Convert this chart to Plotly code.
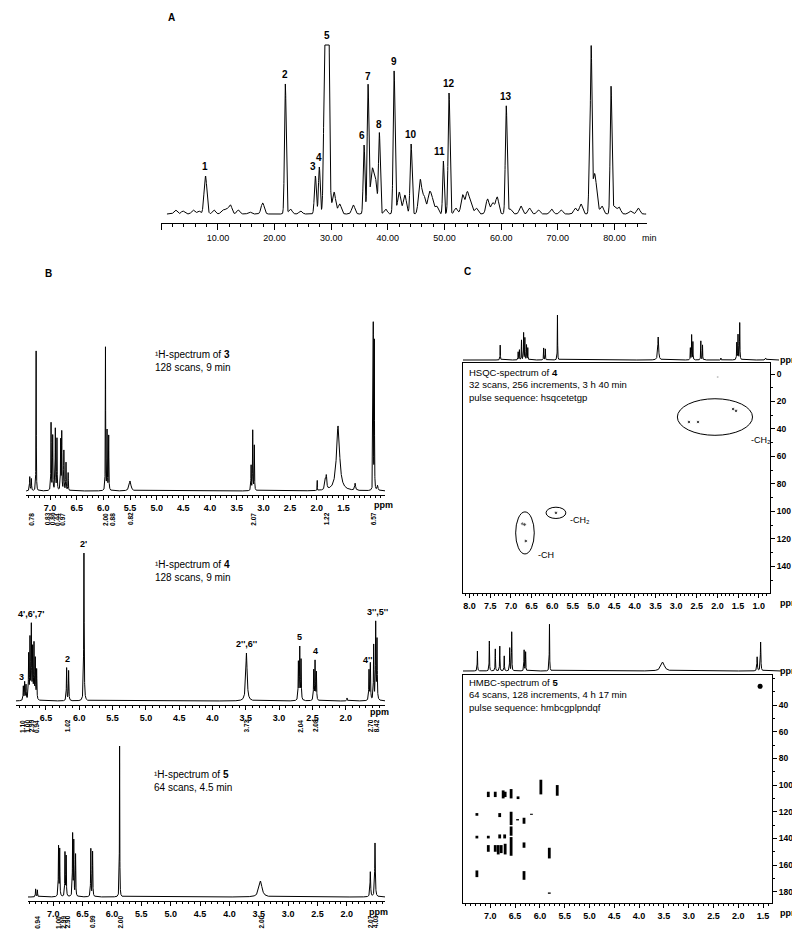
import numpy as np
import plotly.graph_objects as go

W, H = 800, 932
FONT = "Liberation Sans, Arial, sans-serif"


def fx(p):
    return p / W


def fy(p):
    return 1 - p / H


# ---------------- Panel A : chromatogram ----------------
chrom_rt = [7.8, 21.9, 27.2, 27.9, 29.2, 35.8, 36.5, 38.5, 41.1, 44.1, 49.8, 50.8, 60.9, 75.6, 75.9, 79.4]
chrom_height = [38, 130, 38, 47, 600, 69, 128, 80, 143, 70, 53, 121, 108, 52, 158, 127]
chrom_sigma = [0.25, 0.15, 0.17, 0.15, 0.28, 0.15, 0.15, 0.15, 0.16, 0.17, 0.13, 0.16, 0.16, 0.13, 0.13, 0.15]
chrom_label = ["1", "2", "3", "4", "5", "6", "7", "8", "9", "10", "11", "12", "13", "", "", ""]
minor_rt = [2.5, 3.8, 5.6, 6.6, 9.3, 10.8, 11.5, 12.2, 13.6, 15.6, 17.9, 22.8, 24.6, 30.5, 31.5, 33.9,
            37.2, 37.8, 39.6, 42.0, 43.0, 45.7, 46.4, 47.3, 47.8, 48.6, 52.0, 53.2, 54.0, 54.6, 55.6,
            57.6, 58.5, 59.3, 61.6, 63.5, 65.0, 66.6, 68.9, 70.6, 73.1, 74.1, 76.4, 76.8, 77.8, 80.0,
            80.8, 82.8, 84.2]
minor_height = [4, 3, 4, 3, 4, 4, 5, 9, 4, 2, 11, 5, 3, 22, 10, 9,
                42, 33, 5, 22, 19, 34, 17, 19, 14, 8, 6, 19, 21, 12, 6,
                15, 11, 17, 5, 8, 6, 4, 5, 4, 6, 10, 33, 17, 8, 8,
                7, 3, 6]
detector_max = 169
chrom_ticks = [10, 20, 30, 40, 50, 60, 70, 80]
chrom_ticktext = ["10.00", "20.00", "30.00", "40.00", "50.00", "60.00", "70.00", "80.00"]

# ---------------- Panel B : 1H spectra ----------------
s3_ppm = [7.38, 7.35, 7.26, 6.98, 6.95, 6.90, 6.87, 6.80, 6.78, 6.74, 6.70, 6.66, 5.96, 5.93, 5.90,
          5.50, 3.23, 3.20, 3.17, 1.99, 1.84, 1.82, 1.60, 1.28, 0.94, 0.92, 0.86]
s3_h = [14, 12, 140, 68, 55, 62, 52, 50, 58, 40, 28, 18, 144, 60, 55,
        10, 25, 60, 45, 10, 9, 13, 65, 7, 166, 150, 5]
s3_w = [.005, .005, .003, .004, .004, .004, .004, .004, .004, .004, .004, .004, .003, .004, .004,
        .02, .004, .004, .004, .002, .01, .01, .035, .01, .003, .003, .01]
s3_int_ppm = [7.36, 7.05, 6.96, 6.87, 6.78, 5.97, 5.84, 5.50, 3.20, 1.82, 0.94]
s3_int_txt = ["0.78", "0.83", "0.86", "0.44", "0.97", "2.00", "0.88", "0.82", "2.07", "1.22", "6.57"]
s3_ticks = [7.0, 6.5, 6.0, 5.5, 5.0, 4.5, 4.0, 3.5, 3.0, 2.5, 2.0, 1.5]

s4_ppm = [6.84, 6.82, 6.80, 6.76, 6.74, 6.72, 6.70, 6.68, 6.66, 6.64, 6.19, 6.16, 5.93, 3.49,
          2.71, 2.69, 2.67, 2.48, 2.46, 2.44, 1.98, 1.65, 1.63, 1.58, 1.55, 1.53]
s4_h = [14, 18, 15, 45, 60, 73, 50, 55, 40, 30, 33, 30, 148, 48,
        38, 52, 40, 30, 39, 28, 3, 30, 37, 55, 77, 60]
s4_w = [.004] * 13 + [.012] + [.004] * 12
s4_lab_txt = ["3", "4',6',7'", "2", "2'", "2'',6''", "5", "4", "4''", "3'',5''"]
s4_lab_ppm = [6.86, 6.73, 6.18, 5.93, 3.49, 2.69, 2.46, 1.68, 1.53]
s4_int_ppm = [6.86, 6.79, 6.72, 6.65, 6.18, 3.49, 2.69, 2.46, 1.63, 1.54]
s4_int_txt = ["1.10", "1.00", "2.99", "0.94", "1.02", "3.73", "2.04", "2.08", "2.70", "8.42"]
s4_ticks = [6.5, 6.0, 5.5, 5.0, 4.5, 4.0, 3.5, 3.0, 2.5, 2.0]

s5_ppm = [7.30, 7.27, 6.91, 6.89, 6.80, 6.78, 6.67, 6.65, 6.62, 6.36, 6.33, 5.87, 3.47, 1.60, 1.52]
s5_h = [8, 7, 50, 47, 44, 40, 62, 55, 42, 48, 45, 151, 16, 25, 54]
s5_w = [.004, .004, .004, .004, .004, .004, .004, .004, .004, .004, .004, .003, .03, .006, .006]
s5_int_ppm = [7.28, 6.92, 6.84, 6.76, 6.34, 5.87, 3.47, 1.60, 1.52]
s5_int_txt = ["0.94", "1.00", "2.99", "2.90", "0.99", "2.00", "2.00", "2.07", "4.03"]
s5_ticks = [7.0, 6.5, 6.0, 5.5, 5.0, 4.5, 4.0, 3.5, 3.0, 2.5, 2.0]

# ---------------- Panel C : HSQC of 4 ----------------
hsqc1d_ppm = [7.27, 6.84, 6.81, 6.76, 6.71, 6.68, 6.64, 6.61, 6.23, 6.19, 5.90, 3.49, 2.72, 2.69, 2.66,
              2.47, 2.43, 1.99, 1.61, 1.58, 1.54, 0.92]
hsqc1d_h = [15, 8, 10, 20, 27, 22, 15, 12, 12, 11, 45, 23, 12, 25, 18, 19, 15, 2, 17, 25, 37, 2]
hsqc1d_w = [.004] * 11 + [.012] + [.004] * 5 + [.003, .005, .005, .005, .01]
hsqc_h = [1.99, 1.62, 1.55, 2.69, 2.47, 5.91, 6.72, 6.67, 6.64]
hsqc_c = [2.2, 25.5, 26.8, 34.9, 34.9, 101.0, 109.0, 109.5, 121.5]
hsqc_zone_h = [2.06, 5.91, 6.66]
hsqc_zone_c = [31.3, 101.0, 115.6]
hsqc_zone_dh = [0.91, 0.24, 0.225]
hsqc_zone_dc = [13.3, 4.1, 15.3]
hsqc_zone_txt = ["-CH₂", "-CH₂", "-CH"]
hsqc_zone_txt_h = [1.24, 5.62, 6.40]
hsqc_zone_txt_c = [48, 106, 132]
hsqc_xticks = [8.0, 7.5, 7.0, 6.5, 6.0, 5.5, 5.0, 4.5, 4.0, 3.5, 3.0, 2.5, 2.0, 1.5, 1.0]
hsqc_yticks = [0, 20, 40, 60, 80, 100, 120, 140]

# ---------------- Panel C : HMBC of 5 ----------------
hmbc1d_ppm = [7.26, 7.02, 6.90, 6.81, 6.72, 6.61, 6.57, 6.32, 6.29, 5.81, 3.53, 1.63, 1.56]
hmbc1d_h = [20, 30, 22, 25, 15, 23, 39, 21, 19, 47, 9, 14, 29]
hmbc1d_w = [.004] * 10 + [.04, .006, .006]
hmbc_h = [5.98, 5.65, 7.04, 6.90, 6.74, 6.70, 6.58, 6.44,
          7.27, 6.81, 6.58, 6.45, 6.32, 6.17,
          7.27, 7.04, 6.81, 6.71, 6.58, 6.32,
          7.04, 6.90, 6.84, 6.78, 6.70, 6.58, 5.81,
          7.27, 6.32, 5.81, 1.56]
hmbc_c_lo = [96, 100, 105, 105, 104, 105, 103, 108.5,
             121, 121, 120, 125.5, 124.5, 121.5,
             138, 138, 137, 137, 131, 143,
             145, 145, 145, 145, 144, 139, 147,
             164, 164.5, 180.5, 24.5]
hmbc_c_hi = [107, 108, 109, 109, 110, 109, 110, 110.5,
             123, 124, 130, 126.5, 129, 122.3,
             140, 140, 140, 140, 138, 147,
             150, 150, 152, 151, 152, 153, 155,
             169, 171, 181.5, 27.5]
hmbc_xticks = [7.0, 6.5, 6.0, 5.5, 5.0, 4.5, 4.0, 3.5, 3.0, 2.5, 2.0, 1.5]
hmbc_yticks = [40, 60, 80, 100, 120, 140, 160, 180]


# ---------------- helpers ----------------
def lorentz(x, centers, heights, widths):
    y = np.zeros_like(x)
    for c, h, w in zip(centers, heights, widths):
        y += h / (1.0 + ((x - c) / w) ** 2)
    return y


def gauss(x, centers, heights, sigmas):
    y = np.zeros_like(x)
    for c, h, s in zip(centers, heights, sigmas):
        y += h * np.exp(-0.5 * ((x - c) / s) ** 2)
    return y


LINE = dict(color="black", width=1)
TICKFONT = dict(family=FONT, size=9, color="black", weight="bold")

fig = go.Figure()

# chromatogram
t = np.linspace(1.0, 85.6, 9000)
sig = gauss(t, chrom_rt, chrom_height, chrom_sigma) + gauss(t, minor_rt, minor_height, [0.28] * len(minor_rt))
sig = np.minimum(sig, detector_max)
fig.add_trace(go.Scatter(x=t, y=sig, mode="lines", line=LINE, xaxis="x", yaxis="y",
                         hoverinfo="skip", showlegend=False))


def spectrum_trace(ppm_range, ppm, h, w, xa, ya, n=9000):
    x = np.linspace(min(ppm_range), max(ppm_range), n)
    y = lorentz(x, ppm, h, w)
    fig.add_trace(go.Scatter(x=x, y=y, mode="lines", line=LINE, xaxis=xa, yaxis=ya,
                             hoverinfo="skip", showlegend=False))
    return x, y


R3 = [7.45, 0.72]
R4 = [6.95, 1.41]
R5 = [7.43, 1.35]
x3c, y3c = spectrum_trace(R3, s3_ppm, s3_h, s3_w, "x2", "y2")
x4c, y4c = spectrum_trace(R4, s4_ppm, s4_h, s4_w, "x3", "y3")
x5c, y5c = spectrum_trace(R5, s5_ppm, s5_h, s5_w, "x4", "y4")

RH = [8.16, 0.727]
RM = [7.55, 1.32]
spectrum_trace([8.16, 0.60], hsqc1d_ppm, hsqc1d_h, hsqc1d_w, "x5", "y5")
spectrum_trace([7.55, 1.15], hmbc1d_ppm, hmbc1d_h, hmbc1d_w, "x7", "y7")

# HSQC cross peaks
fig.add_trace(go.Scatter(x=hsqc_h, y=hsqc_c, mode="markers", xaxis="x6", yaxis="y6",
                         marker=dict(color="black", size=[2] + [3.5] * (len(hsqc_h) - 1)),
                         hoverinfo="skip", showlegend=False))
# HMBC cross peaks
bx, by = [], []
for hh, lo, hi in zip(hmbc_h, hmbc_c_lo, hmbc_c_hi):
    bx += [hh, hh, None]
    by += [lo, hi, None]
fig.add_trace(go.Scatter(x=bx, y=by, mode="lines", xaxis="x8", yaxis="y8",
                         line=dict(color="black", width=2.8), hoverinfo="skip", showlegend=False))
fig.add_trace(go.Scatter(x=[hmbc_h[-1]], y=[(hmbc_c_lo[-1] + hmbc_c_hi[-1]) / 2], mode="markers",
                         xaxis="x8", yaxis="y8", marker=dict(color="black", size=5),
                         hoverinfo="skip", showlegend=False))


def nmr_x(dom, rng, anchor, ticks, mirror=False):
    return dict(domain=[fx(dom[0]), fx(dom[1])], range=rng, anchor=anchor, autorange=False,
                showline=True, linecolor="black", linewidth=1, mirror=mirror,
                ticks="outside", ticklen=4, tickwidth=1, tickcolor="black",
                tickmode="array", tickvals=ticks, ticktext=[f"{v:.1f}" for v in ticks],
                tickfont=TICKFONT,
                minor=dict(tickmode="linear", tick0=0, dtick=0.1, ticklen=2, ticks="outside",
                           tickcolor="black"),
                showgrid=False, zeroline=False)


def hidden_y(dom, rng, anchor):
    return dict(domain=[fy(dom[1]), fy(dom[0])], range=rng, anchor=anchor, visible=False,
                autorange=False, showgrid=False, zeroline=False)


def right_y(dom, rng, anchor, ticks):
    return dict(domain=[fy(dom[1]), fy(dom[0])], range=rng, anchor=anchor, side="right",
                autorange=False, showline=True, linecolor="black", linewidth=1, mirror=True,
                ticks="outside", ticklen=4, tickcolor="black", tickmode="array",
                tickvals=ticks, tickfont=dict(family=FONT, size=8.5, color="black", weight="bold"),
                minor=dict(tickmode="linear", tick0=0, dtick=10, ticklen=2, ticks="outside",
                           tickcolor="black"),
                showgrid=False, zeroline=False)


layout = dict(
    width=W, height=H, margin=dict(l=0, r=0, t=0, b=0),
    paper_bgcolor="white", plot_bgcolor="rgba(0,0,0,0)", showlegend=False,
    font=dict(family=FONT, color="black"),
)
# chromatogram axes
layout["xaxis"] = dict(domain=[fx(153.3), fx(639)], range=[0, 85.75], anchor="y", autorange=False,
                       showline=True, linecolor="black", linewidth=1, ticks="outside", ticklen=6,
                       tickcolor="black", tickmode="array", tickvals=[0] + chrom_ticks,
                       ticktext=[" "] + chrom_ticktext, tickfont=dict(family=FONT, size=9, color="black"),
                       minor=dict(tickmode="linear", tick0=0, dtick=2, ticklen=3, ticks="outside",
                                  tickcolor="black"),
                       showgrid=False, zeroline=False)
layout["yaxis"] = hidden_y([30, 215], [-9, 176], "x")

layout["xaxis2"] = nmr_x([18, 377], R3, "y2", s3_ticks)
layout["yaxis2"] = hidden_y([310, 487], [-4, 173], "x2")
layout["xaxis3"] = nmr_x([8, 377], R4, "y3", s4_ticks)
layout["yaxis3"] = hidden_y([530, 697], [-4, 163], "x3")
layout["xaxis4"] = nmr_x([20, 377], R5, "y4", s5_ticks)
layout["yaxis4"] = hidden_y([735, 893], [-4, 154], "x4")

# HSQC
layout["xaxis5"] = dict(domain=[fx(455), fx(771)], range=[8.16, 0.60], anchor="y5", visible=False,
                        autorange=False)
layout["yaxis5"] = hidden_y([299, 353], [-1, 53], "x5")
layout["xaxis6"] = nmr_x([455, 762], RH, "y6", hsqc_xticks, mirror=True)
layout["yaxis6"] = right_y([355, 585], [159.3, -8], "x6", hsqc_yticks)
# HMBC
layout["xaxis7"] = dict(domain=[fx(455), fx(773)], range=[7.55, 1.15], anchor="y7", visible=False,
                        autorange=False)
layout["yaxis7"] = hidden_y([611, 664], [-1, 52], "x7")
layout["xaxis8"] = nmr_x([455, 764], RM, "y8", hmbc_xticks, mirror=True)
layout["yaxis8"] = right_y([667, 895], [188.4, 17.5], "x8", hmbc_yticks)

ann = []


def paper_text(x, y, text, size=10, bold=False, xanchor="left", yanchor="middle", angle=0):
    ann.append(dict(x=fx(x), y=fy(y), xref="paper", yref="paper", text=text, showarrow=False,
                    xanchor=xanchor, yanchor=yanchor, align="left", textangle=angle,
                    font=dict(family=FONT, size=size, color="black",
                              weight="bold" if bold else "normal")))


# panel letters
paper_text(158, 10, "A", 10, True)
paper_text(35, 265, "B", 10, True)
paper_text(454, 263, "C", 10, True)
paper_text(632, 230, "min", 9)

# chromatogram peak labels
label_dx = {"3": -2, "11": -4, "6": -2}
for rt, hgt, lab in zip(chrom_rt, chrom_height, chrom_label):
    if lab:
        ann.append(dict(x=rt, y=min(hgt, detector_max), xref="x", yref="y", text=lab, showarrow=False,
                        xanchor="center", yanchor="bottom", yshift=2, xshift=label_dx.get(lab, 0),
                        font=dict(family=FONT, size=10, color="black", weight="bold")))

# spectrum titles
paper_text(145, 353, "¹H-spectrum of <b>3</b><br>128 scans, 9 min", 10)
paper_text(145, 563, "¹H-spectrum of <b>4</b><br>128 scans, 9 min", 10)
paper_text(144, 773, "¹H-spectrum of <b>5</b><br>64 scans, 4.5 min", 10)
paper_text(459, 377, "HSQC-spectrum of <b>4</b><br>32 scans, 256 increments, 3 h 40 min<br>pulse sequence: hsqcetetgp", 9.5)
paper_text(459, 687, "HMBC-spectrum of <b>5</b><br>64 scans, 128 increments, 4 h 17 min<br>pulse sequence: hmbcgplpndqf", 9.5)

# ppm labels
for (xx, yy) in [(375, 497), (371, 704), (370, 904), (781, 352), (781, 595), (781, 663), (781, 905)]:
    paper_text(xx, yy, "ppm", 9, True, xanchor="center")


# integrals
def integrals(ppms, txts, xa, ycen):
    for p, tx in zip(ppms, txts):
        ann.append(dict(x=p, y=fy(ycen), xref=xa, yref="paper", text=tx, showarrow=False,
                        textangle=-90, xanchor="center", yanchor="middle",
                        font=dict(family=FONT, size=6.5, color="black", weight="bold")))


integrals(s3_int_ppm, s3_int_txt, "x2", 511)
integrals(s4_int_ppm, s4_int_txt, "x3", 718)
integrals(s5_int_ppm, s5_int_txt, "x4", 914)

# spectrum 4 peak labels
for p, tx in zip(s4_lab_ppm, s4_lab_txt):
    m = (x4c > p - 0.035) & (x4c < p + 0.035)
    ann.append(dict(x=p, y=float(y4c[m].max()), xref="x3", yref="y3", text=tx, showarrow=False,
                    xanchor="center", yanchor="bottom", yshift=2,
                    font=dict(family=FONT, size=9, color="black", weight="bold")))

# HSQC zone labels
for hx, cy, tx in zip(hsqc_zone_txt_h, hsqc_zone_txt_c, hsqc_zone_txt):
    ann.append(dict(x=hx, y=cy, xref="x6", yref="y6", text=tx, showarrow=False,
                    xanchor="left", yanchor="middle",
                    font=dict(family=FONT, size=9, color="black")))

shapes = []
for hx, cy, dh, dc in zip(hsqc_zone_h, hsqc_zone_c, hsqc_zone_dh, hsqc_zone_dc):
    shapes.append(dict(type="circle", xref="x6", yref="y6", x0=hx - dh, x1=hx + dh,
                       y0=cy - dc, y1=cy + dc, line=dict(color="black", width=1)))

layout["annotations"] = ann
layout["shapes"] = shapes
fig.update_layout(**layout)
fig.write_html("out.html")
